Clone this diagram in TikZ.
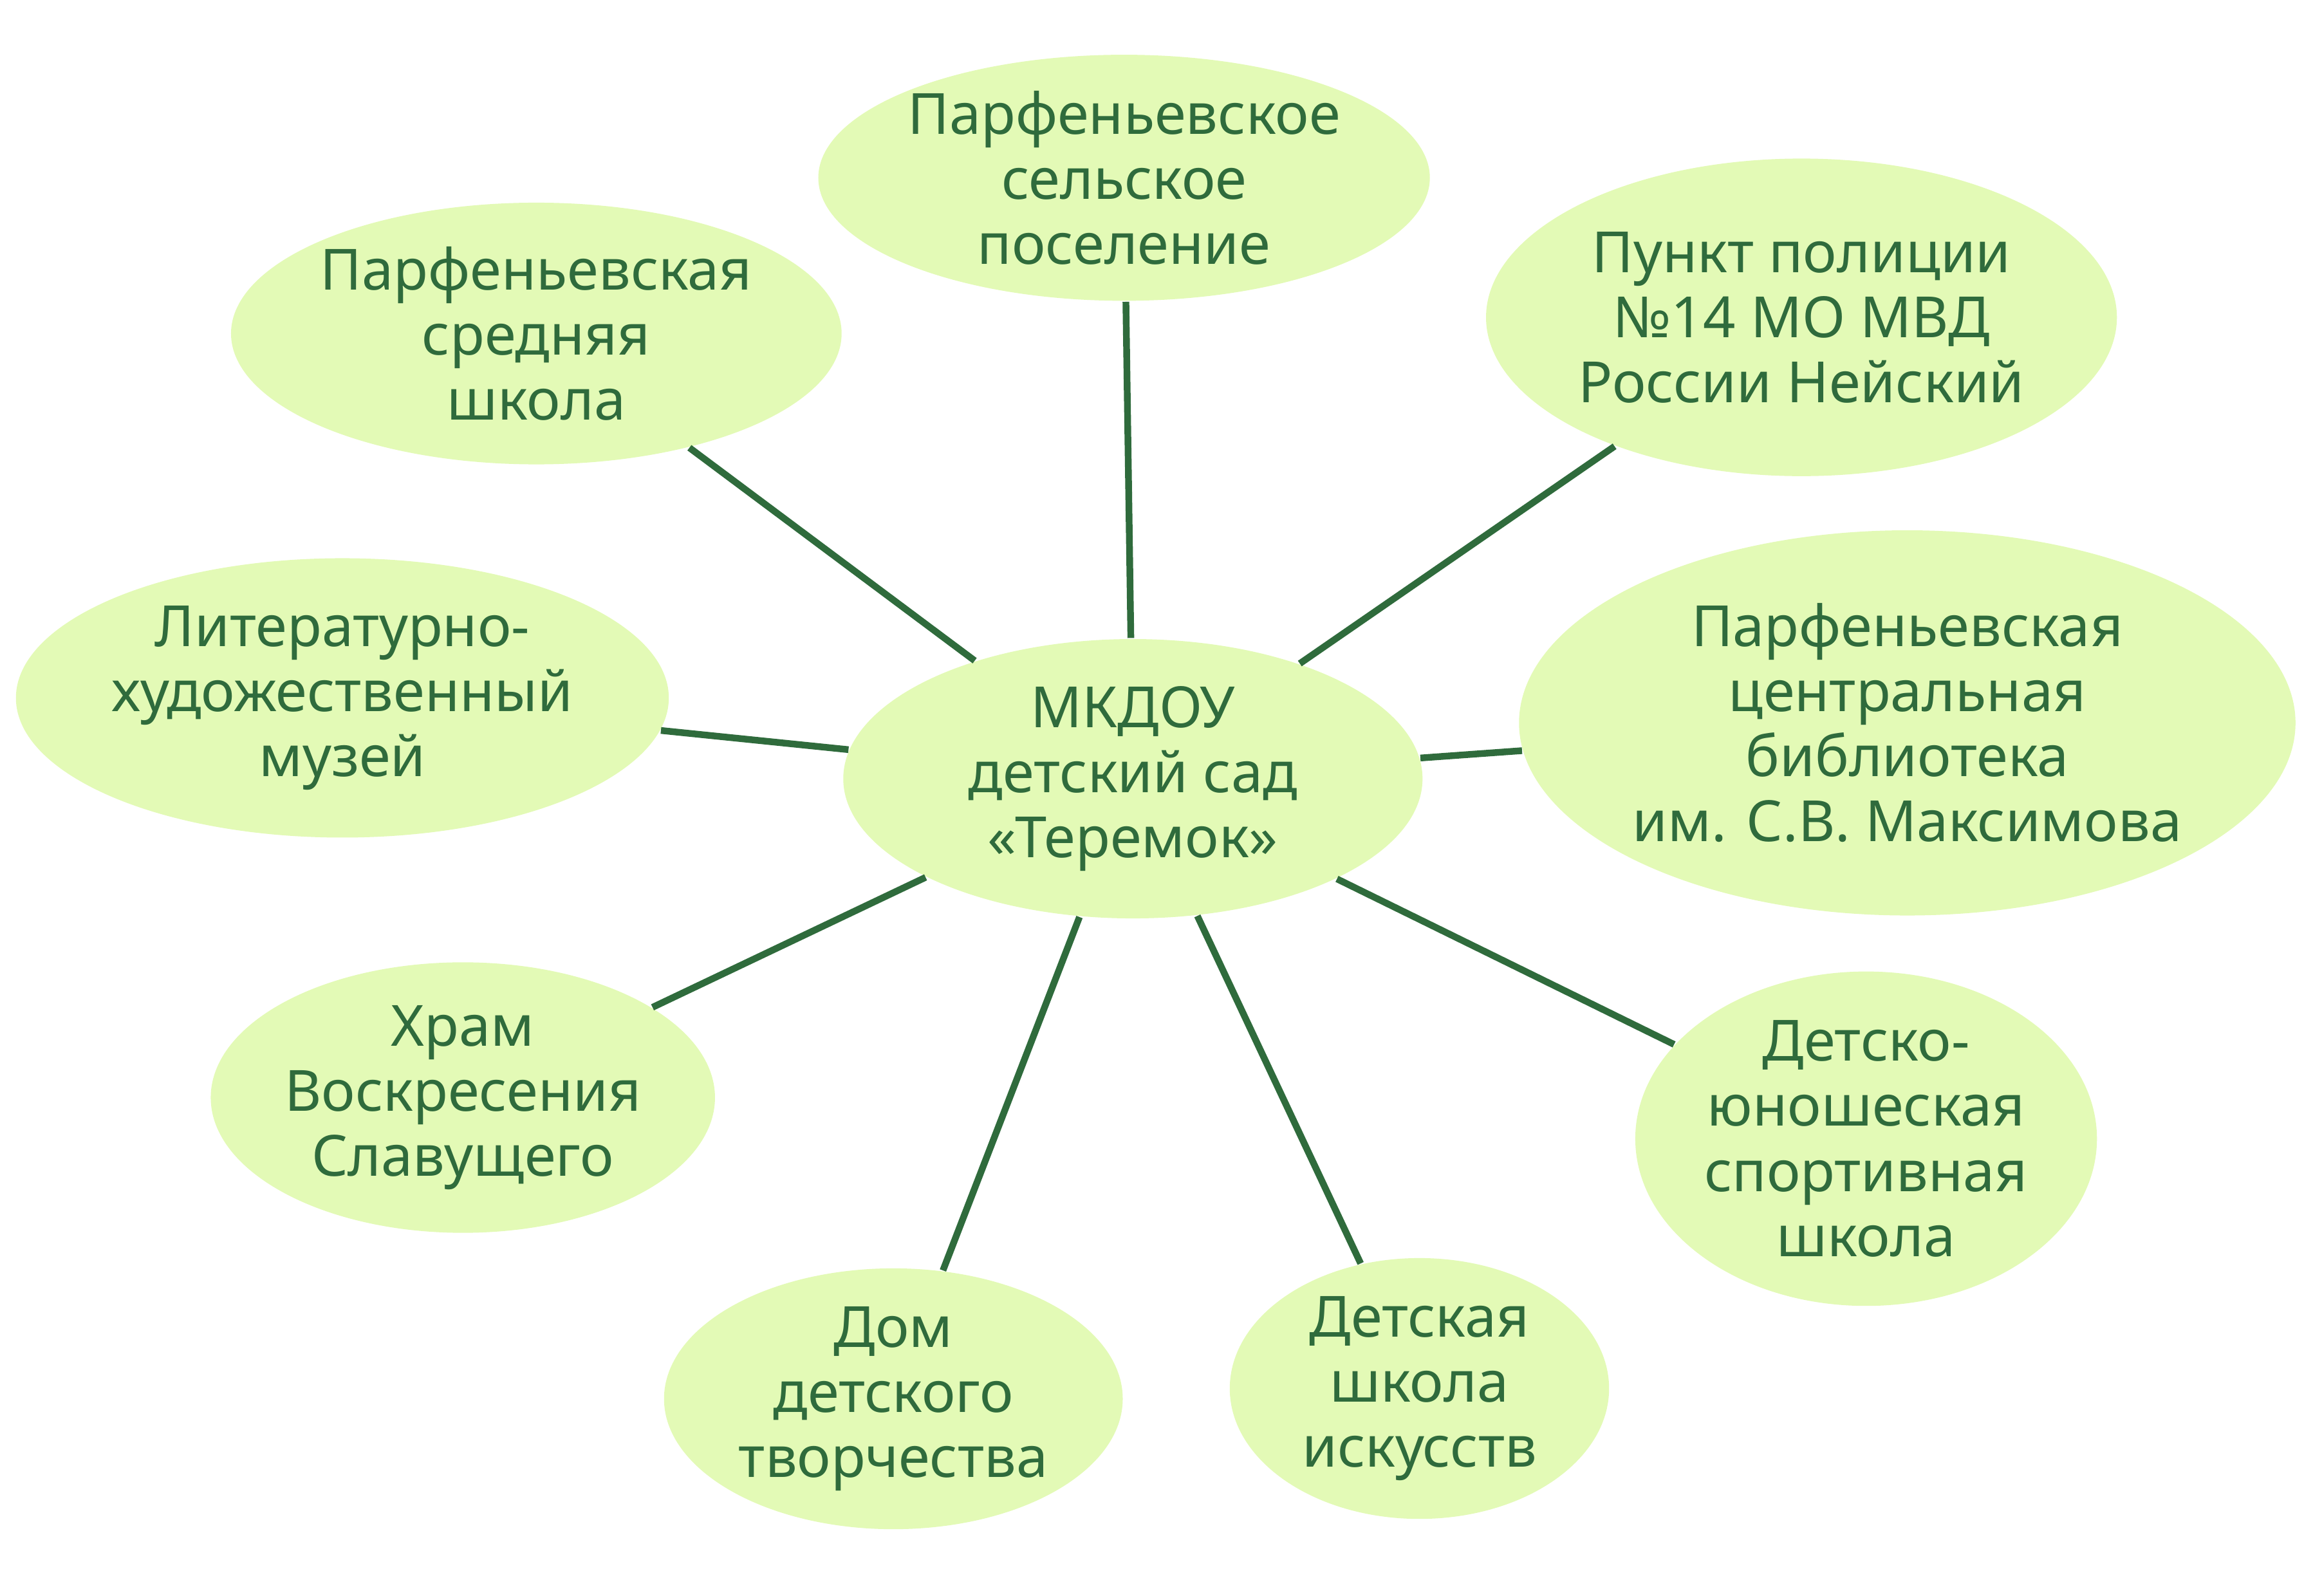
\documentclass[tikz,border=0pt]{standalone}
\usepackage{fontspec}
\setmainfont{Noto Sans}
\usetikzlibrary{shapes.geometric}
\definecolor{fillg}{HTML}{E3FAB6}
\definecolor{dg}{HTML}{2F6B3C}
\tikzset{org/.style={ellipse,fill=fillg,draw=none,inner sep=0pt,align=center,text=dg,font=\fontsize{11}{12.6}\selectfont},
link/.style={dg,line width=1.3pt}}
\begin{document}
\begin{tikzpicture}[x=0.01cm,y=-0.01cm]
\useasboundingbox (0,0) rectangle (1568,1086);
\def\E#1#2#3#4#5#6{\node[org,minimum width=#4*2,minimum height=#5*2] (#1) at (#2,#3) {#6};}
\node[org,minimum width=3.94cm,minimum height=1.9cm] (c) at (771,530) {МКДОУ\\детский сад\\«Теремок»};
\node[org,minimum width=4.06cm,minimum height=1.64cm] (t) at (765,121) {Парфеньевское\\сельское\\поселение};
\node[org,minimum width=4.14cm,minimum height=1.78cm] (s) at (365,227) {Парфеньевская\\средняя\\школа};
\node[org,minimum width=4.28cm,minimum height=2.16cm] (p) at (1226,216) {Пункт полиции\\№14 МО МВД\\России Нейский};
\node[org,minimum width=4.8cm,minimum height=2.62cm] (l) at (1298,492) {Парфеньевская\\центральная\\библиотека\\им. С.В. Максимова};
\node[org,minimum width=3.14cm,minimum height=2.18cm] (sp) at (1270,775) {Детско-\\юношеская\\спортивная\\школа};
\node[org,minimum width=2.58cm,minimum height=1.7cm] (a) at (966,945) {Детская\\школа\\искусств};
\node[org,minimum width=3.12cm,minimum height=1.76cm] (h) at (608,952) {Дом\\детского\\творчества};
\node[org,minimum width=3.2cm,minimum height=1.84cm] (tm) at (315,747) {Храм\\Воскресения\\Славущего};
\node[org,minimum width=3.8cm,minimum height=1.9cm] (m) at (233,475) {Литературно-\\художественный\\музей};
\draw[link] (c.north) ++(0,-10) coordinate (c0);
\draw[link] (t) -- (c);
\foreach \n in {s,p,l,sp,a,h,tm,m} \draw[link] (\n) -- (c);
\end{tikzpicture}
\end{document}
